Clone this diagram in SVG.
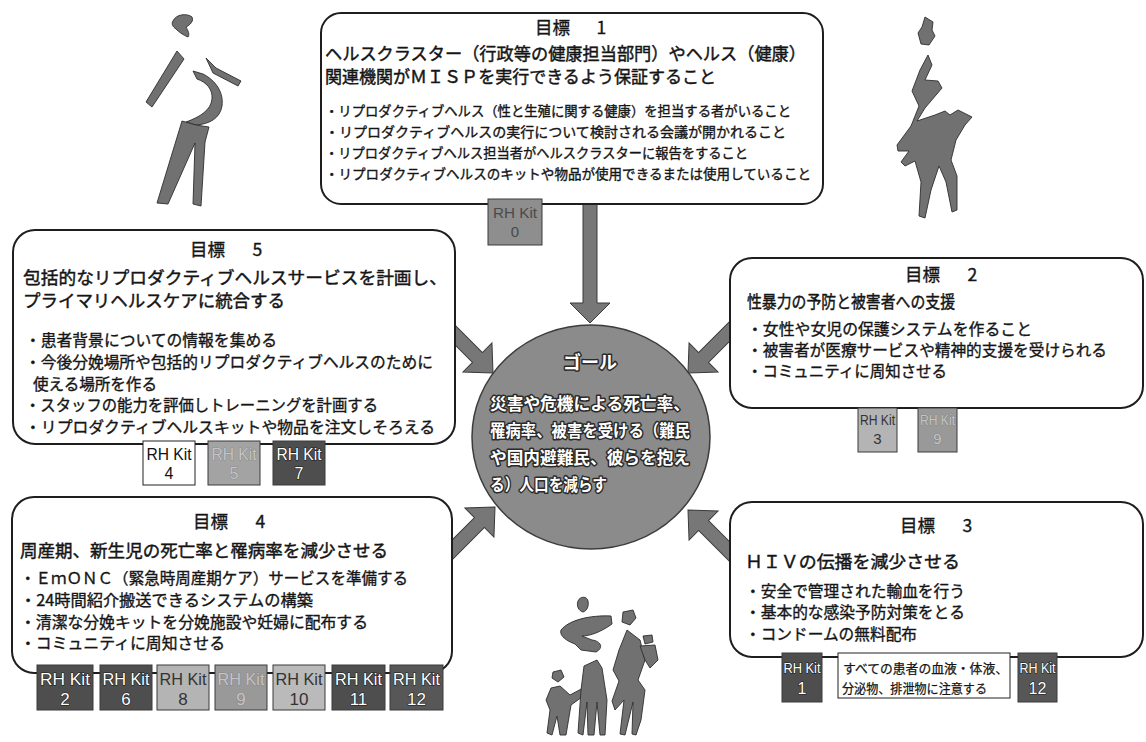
<svg xmlns="http://www.w3.org/2000/svg" width="1146" height="742" viewBox="0 0 1146 742">
  <defs>
    <style>
      .box { fill: #ffffff; stroke: #1e1e1e; stroke-width: 2; }
      .jp { font-family: 'Noto Sans CJK JP', 'Noto Sans CJK SC', sans-serif; fill: #151515; stroke: #151515; stroke-width: 0.35; }
      .head { font-size: 17.5px; }
      .title { font-size: 17.5px; stroke-width: 0.45; }
      .item { font-size: 15.5px; }
      .item1 { font-size: 13.5px; }
      .arrow { fill: #777777; stroke: #3a3a3a; stroke-width: 1; }
      .goal-disc { fill: #8b8b8b; stroke: #3c3c3c; stroke-width: 1.5; }
      .goal-text { font-family: 'Noto Sans CJK JP', sans-serif; fill: #ffffff; stroke: #2a2a2a; stroke-width: 3; paint-order: stroke; stroke-linejoin: round; font-weight: 700; }
      .kit { stroke: #3a3a3a; stroke-width: 1; }
      .kit-white { fill: #ffffff; stroke: #222; }
      .kit-light { fill: #b4b4b4; }
      .kit-mid { fill: #999999; }
      .kit-grey { fill: #8e8e8e; }
      .kit-dark { fill: #4e4e4e; }
      .kt { font-family: 'Liberation Sans', Arial, sans-serif; text-anchor: middle; }
      .kt-dark { fill: #ffffff; stroke: #1a1a1a; stroke-width: 1.2; paint-order: stroke; }
      .kt-black { fill: #111111; }
      .kt-light { fill: #333333; }
      .kt-faded { fill: #c4c4c4; stroke: #777; stroke-width: 0.6; paint-order: stroke; }
      .kt-grey { fill: #4a4a4a; }
      .figure { fill: #717171; stroke: #2e2e2e; stroke-width: 0.9; stroke-linejoin: round; }
    </style>
  </defs>

  <rect width="1146" height="742" fill="#ffffff"/>

  <!-- arrows from each objective to the central goal -->
  <g id="connectors">
    <path class="arrow" d="M583,200 L597,200 L597,303 L610,303 L590,323 L570,303 L583,303 Z"/>
    <path class="arrow" transform="translate(493,373) rotate(45)" d="M0,0 L-22,-20.5 L-22,-7 L-62,-7 L-62,7 L-22,7 L-22,20.5 Z"/>
    <path class="arrow" transform="translate(688,373) rotate(135)" d="M0,0 L-22,-20.5 L-22,-7 L-67,-7 L-67,7 L-22,7 L-22,20.5 Z"/>
    <path class="arrow" transform="translate(495,507) rotate(-45)" d="M0,0 L-22,-20.5 L-22,-7 L-69,-7 L-69,7 L-22,7 L-22,20.5 Z"/>
    <path class="arrow" transform="translate(688,510) rotate(-135)" d="M0,0 L-22,-20.5 L-22,-7 L-67,-7 L-67,7 L-22,7 L-22,20.5 Z"/>
  </g>

  <!-- central goal -->
  <g id="goal">
    <ellipse class="goal-disc" cx="591" cy="437" rx="119" ry="112"/>
    <text class="goal-text" x="590" y="369" font-size="18" text-anchor="middle">ゴール</text>
    <text class="goal-text" x="490" y="410" font-size="16.5" textLength="200" lengthAdjust="spacingAndGlyphs">災害や危機による死亡率、</text>
    <text class="goal-text" x="490" y="437" font-size="16.5" textLength="200" lengthAdjust="spacingAndGlyphs">罹病率、被害を受ける（難民</text>
    <text class="goal-text" x="490" y="464" font-size="16.5" textLength="200" lengthAdjust="spacingAndGlyphs">や国内避難民、彼らを抱え</text>
    <text class="goal-text" x="490" y="491" font-size="16.5" textLength="117" lengthAdjust="spacingAndGlyphs">る）人口を減らす</text>
  </g>

  <!-- objective 1 -->
  <g id="objective-1">
    <rect class="box" x="321" y="13" width="502" height="191" rx="20"/>
    <text class="jp head" x="535" y="34">目標　<tspan dx="9">1</tspan></text>
    <text class="jp title" x="325" y="60" textLength="481" lengthAdjust="spacingAndGlyphs">ヘルスクラスター（行政等の健康担当部門）やヘルス（健康）</text>
    <text class="jp title" x="325" y="83" textLength="391" lengthAdjust="spacingAndGlyphs">関連機関がＭＩＳＰを実行できるよう保証すること</text>
    <text class="jp item1" x="325" y="116" textLength="466" lengthAdjust="spacingAndGlyphs">・リプロダクティブヘルス（性と生殖に関する健康）を担当する者がいること</text>
    <text class="jp item1" x="325" y="137" textLength="461" lengthAdjust="spacingAndGlyphs">・リプロダクティブヘルスの実行について検討される会議が開かれること</text>
    <text class="jp item1" x="325" y="158" textLength="423" lengthAdjust="spacingAndGlyphs">・リプロダクティブヘルス担当者がヘルスクラスターに報告をすること</text>
    <text class="jp item1" x="325" y="179" textLength="486" lengthAdjust="spacingAndGlyphs">・リプロダクティブヘルスのキットや物品が使用できるまたは使用していること</text>
    <g id="kit-0">
      <rect class="kit kit-grey" x="488" y="199" width="54" height="46"/>
      <text class="kt kt-grey" x="515" y="218" font-size="15" textLength="44" lengthAdjust="spacingAndGlyphs">RH Kit</text>
      <text class="kt kt-grey" x="515" y="237" font-size="15">0</text>
    </g>
  </g>

  <!-- objective 5 -->
  <g id="objective-5">
    <rect class="box" x="13" y="230" width="442" height="214" rx="22"/>
    <text class="jp head" x="190" y="256">目標　<tspan dx="10">5</tspan></text>
    <text class="jp title" x="23" y="284" font-size="18" textLength="424" lengthAdjust="spacingAndGlyphs">包括的なリプロダクティブヘルスサービスを計画し、</text>
    <text class="jp title" x="23" y="307" textLength="262" lengthAdjust="spacingAndGlyphs">プライマリヘルスケアに統合する</text>
    <text class="jp item" x="25" y="346" textLength="252" lengthAdjust="spacingAndGlyphs">・患者背景についての情報を集める</text>
    <text class="jp item" x="25" y="368" textLength="408" lengthAdjust="spacingAndGlyphs">・今後分娩場所や包括的リプロダクティブヘルスのために</text>
    <text class="jp item" x="33" y="390" textLength="124" lengthAdjust="spacingAndGlyphs">使える場所を作る</text>
    <text class="jp item" x="25" y="411" textLength="353" lengthAdjust="spacingAndGlyphs">・スタッフの能力を評価しトレーニングを計画する</text>
    <text class="jp item" x="25" y="433" textLength="410" lengthAdjust="spacingAndGlyphs">・リプロダクティブヘルスキットや物品を注文しそろえる</text>
    <g id="kit-4">
      <rect class="kit kit-white" x="143" y="441" width="52" height="44"/>
      <text class="kt kt-black" x="169" y="460" font-size="16" textLength="45" lengthAdjust="spacingAndGlyphs">RH Kit</text>
      <text class="kt kt-black" x="169" y="479" font-size="16">4</text>
    </g>
    <g id="kit-5">
      <rect class="kit kit-mid" x="208" y="441" width="52" height="44" style="fill:#a3a3a3"/>
      <text class="kt kt-faded" x="234" y="460" font-size="16" textLength="45" lengthAdjust="spacingAndGlyphs">RH Kit</text>
      <text class="kt kt-faded" x="234" y="479" font-size="16">5</text>
    </g>
    <g id="kit-7">
      <rect class="kit kit-dark" x="273" y="441" width="52" height="44"/>
      <text class="kt kt-dark" x="299" y="460" font-size="16" textLength="45" lengthAdjust="spacingAndGlyphs">RH Kit</text>
      <text class="kt kt-dark" x="299" y="479" font-size="16">7</text>
    </g>
  </g>

  <!-- objective 2 -->
  <g id="objective-2">
    <rect class="box" x="730" y="258" width="413" height="150" rx="22"/>
    <text class="jp head" x="905" y="281">目標　<tspan dx="10">2</tspan></text>
    <text class="jp title" x="747" y="308" font-size="16" textLength="208" lengthAdjust="spacingAndGlyphs">性暴力の予防と被害者への支援</text>
    <text class="jp item" x="747" y="335" textLength="285" lengthAdjust="spacingAndGlyphs">・女性や女児の保護システムを作ること</text>
    <text class="jp item" x="747" y="356" textLength="360" lengthAdjust="spacingAndGlyphs">・被害者が医療サービスや精神的支援を受けられる</text>
    <text class="jp item" x="747" y="377" textLength="200" lengthAdjust="spacingAndGlyphs">・コミュニティに周知させる</text>
    <g id="kit-3">
      <rect class="kit kit-light" x="858" y="408" width="39" height="44"/>
      <text class="kt kt-light" x="877.5" y="425" font-size="14" textLength="35" lengthAdjust="spacingAndGlyphs">RH Kit</text>
      <text class="kt kt-light" x="877.5" y="444" font-size="15">3</text>
    </g>
    <g id="kit-9a">
      <rect class="kit kit-mid" x="918" y="408" width="39" height="44"/>
      <text class="kt kt-faded" x="937.5" y="425" font-size="14" textLength="35" lengthAdjust="spacingAndGlyphs">RH Kit</text>
      <text class="kt kt-faded" x="937.5" y="444" font-size="15">9</text>
    </g>
  </g>

  <!-- objective 4 -->
  <g id="objective-4">
    <rect class="box" x="12" y="497" width="440" height="176" rx="22"/>
    <text class="jp head" x="193" y="528">目標　<tspan dx="10">4</tspan></text>
    <text class="jp title" x="20" y="557" textLength="368" lengthAdjust="spacingAndGlyphs">周産期、新生児の死亡率と罹病率を減少させる</text>
    <text class="jp item" x="20" y="584" textLength="388" lengthAdjust="spacingAndGlyphs">・ＥｍＯＮＣ（緊急時周産期ケア）サービスを準備する</text>
    <text class="jp item" x="20" y="606" textLength="293" lengthAdjust="spacingAndGlyphs">・24時間紹介搬送できるシステムの構築</text>
    <text class="jp item" x="20" y="628" textLength="348" lengthAdjust="spacingAndGlyphs">・清潔な分娩キットを分娩施設や妊婦に配布する</text>
    <text class="jp item" x="20" y="649" textLength="205" lengthAdjust="spacingAndGlyphs">・コミュニティに周知させる</text>
    <g id="kit-2">
      <rect class="kit kit-dark" x="37" y="665" width="56" height="45"/>
      <text class="kt kt-dark" x="65" y="685" font-size="17" textLength="50" lengthAdjust="spacingAndGlyphs">RH Kit</text>
      <text class="kt kt-dark" x="65" y="705" font-size="17">2</text>
    </g>
    <g id="kit-6">
      <rect class="kit kit-dark" x="100" y="665" width="52" height="45"/>
      <text class="kt kt-dark" x="126" y="685" font-size="17" textLength="47" lengthAdjust="spacingAndGlyphs">RH Kit</text>
      <text class="kt kt-dark" x="126" y="705" font-size="17">6</text>
    </g>
    <g id="kit-8">
      <rect class="kit kit-light" x="157" y="665" width="52" height="45"/>
      <text class="kt kt-light" x="183" y="685" font-size="17" textLength="47" lengthAdjust="spacingAndGlyphs">RH Kit</text>
      <text class="kt kt-light" x="183" y="705" font-size="17">8</text>
    </g>
    <g id="kit-9b">
      <rect class="kit kit-mid" x="215" y="665" width="52" height="45"/>
      <text class="kt kt-faded" x="241" y="685" font-size="17" textLength="47" lengthAdjust="spacingAndGlyphs">RH Kit</text>
      <text class="kt kt-faded" x="241" y="705" font-size="17">9</text>
    </g>
    <g id="kit-10">
      <rect class="kit kit-light" x="273" y="665" width="52" height="45" style="fill:#bababa"/>
      <text class="kt kt-light" x="299" y="685" font-size="17" textLength="47" lengthAdjust="spacingAndGlyphs">RH Kit</text>
      <text class="kt kt-light" x="299" y="705" font-size="17">10</text>
    </g>
    <g id="kit-11">
      <rect class="kit kit-dark" x="332" y="665" width="53" height="45"/>
      <text class="kt kt-dark" x="358.5" y="685" font-size="17" textLength="47" lengthAdjust="spacingAndGlyphs">RH Kit</text>
      <text class="kt kt-dark" x="358.5" y="705" font-size="17">11</text>
    </g>
    <g id="kit-12a">
      <rect class="kit kit-dark" x="390" y="665" width="53" height="45" style="fill:#575757"/>
      <text class="kt kt-dark" x="416.5" y="685" font-size="17" textLength="47" lengthAdjust="spacingAndGlyphs">RH Kit</text>
      <text class="kt kt-dark" x="416.5" y="705" font-size="17">12</text>
    </g>
  </g>

  <!-- objective 3 -->
  <g id="objective-3">
    <rect class="box" x="730" y="502" width="413" height="155" rx="22"/>
    <text class="jp head" x="900" y="532">目標　<tspan dx="10">3</tspan></text>
    <text class="jp title" x="745" y="568" font-size="18" textLength="215" lengthAdjust="spacingAndGlyphs">ＨＩＶの伝播を減少させる</text>
    <text class="jp item" x="745" y="597" textLength="220" lengthAdjust="spacingAndGlyphs">・安全で管理された輸血を行う</text>
    <text class="jp item" x="745" y="618" textLength="220" lengthAdjust="spacingAndGlyphs">・基本的な感染予防対策をとる</text>
    <text class="jp item" x="745" y="640" textLength="172" lengthAdjust="spacingAndGlyphs">・コンドームの無料配布</text>
    <g id="kit-1">
      <rect class="kit kit-dark" x="782" y="653" width="40" height="49"/>
      <text class="kt kt-dark" x="802" y="673" font-size="15" textLength="37" lengthAdjust="spacingAndGlyphs">RH Kit</text>
      <text class="kt kt-dark" x="802" y="694" font-size="16">1</text>
    </g>
    <g id="precaution-note">
      <rect x="838" y="653" width="172" height="45" fill="#ffffff" stroke="#222" stroke-width="1"/>
      <text class="jp" x="843" y="673" font-size="12.7" textLength="165" lengthAdjust="spacingAndGlyphs" style="stroke-width:0.25">すべての患者の血液・体液、</text>
      <text class="jp" x="842" y="693" font-size="12.7" textLength="145" lengthAdjust="spacingAndGlyphs" style="stroke-width:0.25">分泌物、排泄物に注意する</text>
    </g>
    <g id="kit-12b">
      <rect class="kit kit-dark" x="1018" y="653" width="39" height="49" style="fill:#575757"/>
      <text class="kt kt-dark" x="1037.5" y="673" font-size="15" textLength="36" lengthAdjust="spacingAndGlyphs">RH Kit</text>
      <text class="kt kt-dark" x="1037.5" y="694" font-size="16">12</text>
    </g>
  </g>

  <!-- decorative figures -->
  <g id="figure-walking-woman">
    <path class="figure" d="M173,21 C176,14 187,13 192,17 C194,21 190,25 186,27 C188,31 190,34 188,37 C183,35 179,32 176,29 C173,27 171,24 173,21 Z"/>
    <path class="figure" d="M177,51 L184,59 L152,107 L146,102 Z"/>
    <path class="figure" d="M206,58 L216,68 L241,81 L238,86 L213,73 Z"/>
    <path class="figure" d="M193,71 L203,74 C215,80 224,92 222,106 C220,118 210,124 196,125 L186,122 C200,117 211,110 212,99 C213,89 206,82 197,79 Z"/>
    <path class="figure" d="M182,121 L196,125 L209,127 L205,142 L201,206 L193,204 L195,143 L168,204 L157,203 Z"/>
  </g>

  <g id="figure-mother-child">
    <path class="figure" d="M925,17 L933,22 L932,30 L935,36 L929,45 L921,44 L918,33 L922,27 Z"/>
    <path class="figure" d="M928,55 L932,65 L925,80 L938,81 L942,88 L925,108 L917,121 L935,115 L945,111 L950,115 L958,110 L972,117 L965,125 L956,140 L951,160 L957,176 L957,210 L952,212 L946,182 L939,166 L931,190 L925,218 L919,216 L921,182 L915,161 L905,166 L901,162 L909,151 L898,151 L897,145 L911,126 L919,106 L912,91 L920,70 Z"/>
  </g>

  <g id="figure-family">
    <path class="figure" d="M578,601 C580,596 587,596 588,601 C589,606 587,611 583,612 C579,611 576,606 578,601 Z"/>
    <path class="figure" d="M561,630 C569,620 590,615 611,616 L612,624 C601,632 590,636 582,636 L592,640 C601,641 604,648 596,652 L581,650 L575,644 C567,641 559,636 561,630 Z"/>
    <path class="figure" d="M553,672 L561,670 L564,677 L558,682 L552,678 Z"/>
    <path class="figure" d="M551,688 L560,686 L570,695 L585,687 L589,692 L571,705 L566,735 L560,735 L557,716 L552,735 L547,733 L550,710 L546,700 Z"/>
    <path class="figure" d="M584,666 L597,660 L602,668 L607,700 L605,735 L600,735 L597,702 L594,735 L588,735 L587,702 L583,735 L578,733 L581,690 Z"/>
    <path class="figure" d="M623,612 L633,610 L636,618 L630,625 L622,622 Z"/>
    <path class="figure" d="M627,630 L640,640 L645,660 L638,680 L645,690 L641,720 L636,735 L632,734 L633,702 L625,735 L620,734 L624,700 L615,710 L612,701 L619,681 L613,670 L619,650 Z"/>
    <path class="figure" d="M643,636 L652,635 L653,642 L645,644 Z"/>
    <path class="figure" d="M640,646 L655,645 L658,660 L650,668 L645,660 Z"/>
  </g>
</svg>
